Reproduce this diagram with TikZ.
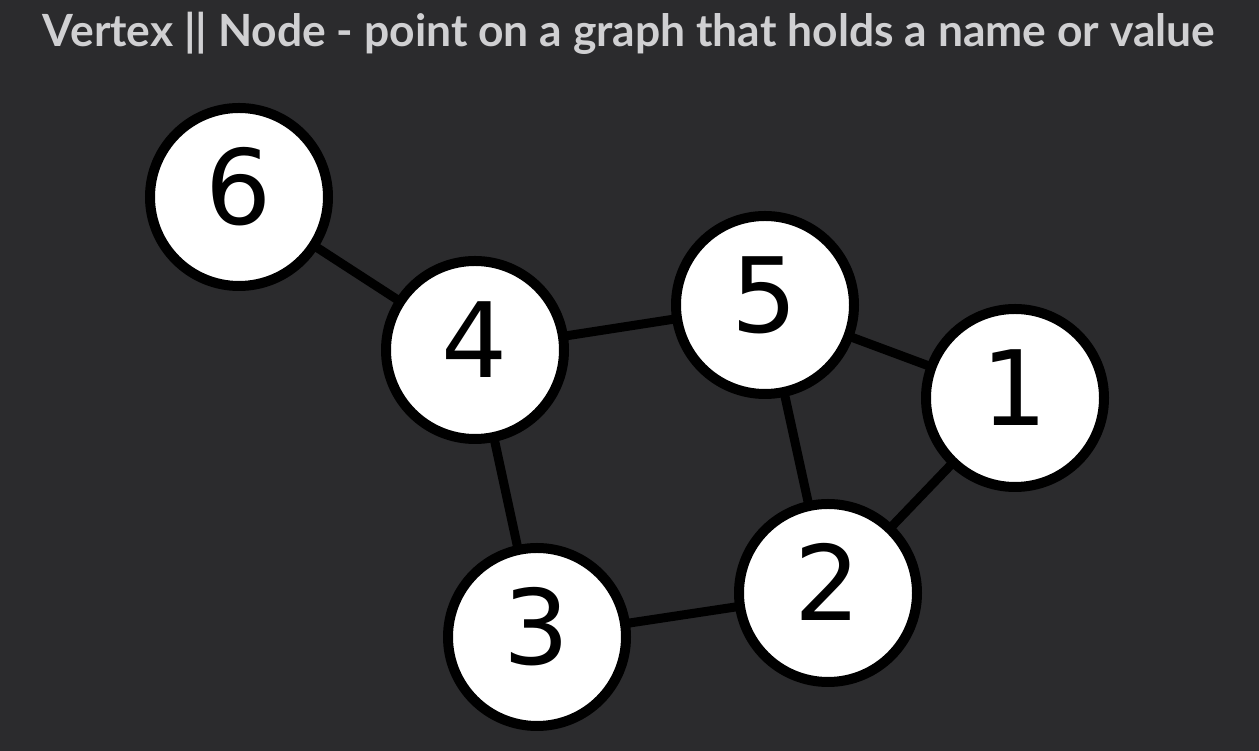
\documentclass[tikz,border=0pt]{standalone}
\usepackage{fontspec}
\setmainfont{Lato}
\newfontfamily\numfont{DejaVu Sans}
\definecolor{bgc}{HTML}{2B2B2D}
\definecolor{titlec}{HTML}{D0D0D2}
\begin{document}
\begin{tikzpicture}[x=1pt,y=1pt,
  vert/.style={circle, draw=black, fill=white, line width=10pt, minimum size=178pt, inner sep=0pt, text height=58pt, text depth=3pt, font=\numfont\fontsize{104}{104}\selectfont},
  edge/.style={draw=black, line width=9pt}]
\fill[bgc] (0,0) rectangle (1259,751);
\useasboundingbox (0,0) rectangle (1259,751);
\node[text=titlec, font=\bfseries\fontsize{44.4}{50}\selectfont, anchor=base] (title) at (629,704) {Vertex || Node - point on a graph that holds a name or value};
\coordinate (p6) at (239,554);
\coordinate (p4) at (475,401);
\coordinate (p5) at (765,446);
\coordinate (p1) at (1015,353);
\coordinate (p2) at (828,158);
\coordinate (p3) at (537,114);
\draw[edge] (p6) -- (p4);
\draw[edge] (p4) -- (p5);
\draw[edge] (p5) -- (p1);
\draw[edge] (p5) -- (p2);
\draw[edge] (p1) -- (p2);
\draw[edge] (p4) -- (p3);
\draw[edge] (p3) -- (p2);
\node[vert] (n6) at (p6) {6};
\node[vert] (n4) at (p4) {4};
\node[vert] (n5) at (p5) {5};
\node[vert] (n1) at (p1) {1};
\node[vert] (n2) at (p2) {2};
\node[vert] (n3) at (p3) {3};
\end{tikzpicture}
\end{document}
